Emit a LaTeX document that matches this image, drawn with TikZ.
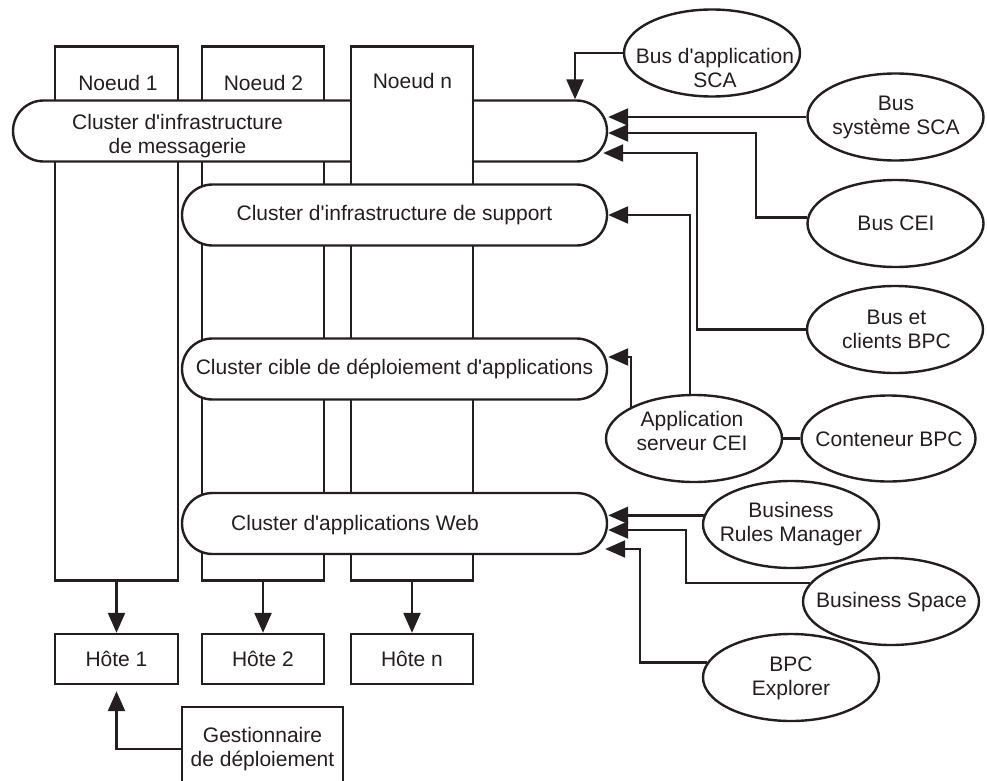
\documentclass[tikz,border=0pt]{standalone}
\usepackage{fontspec}
\setmainfont{Liberation Sans}[Ligatures=TeXOff]
\usetikzlibrary{arrows.meta,shapes.geometric}
\definecolor{ink}{RGB}{35,31,32}
\begin{document}
\begin{tikzpicture}[x=1pt,y=-1pt,
  every node/.style={font=\fontsize{21}{24}\selectfont, text=ink, align=center},
  box/.style={draw=ink, fill=white, line width=2.4pt, inner sep=0pt},
  noeud/.style={box, minimum width=122pt, minimum height=534pt},
  hote/.style={box, minimum width=122pt, minimum height=50pt},
  cluster/.style={box, rounded corners=30.5pt, minimum height=61pt},
  ell/.style={box, ellipse, minimum width=176pt, minimum height=87pt},
  arr/.style={draw=ink, line width=2.4pt, -{Triangle[length=20pt,width=17pt]}},
  lien/.style={draw=ink, line width=2.4pt}]
\useasboundingbox (0,0) rectangle (987,781);
\clip (0,0) rectangle (987,781);
\node[noeud, minimum width=123pt] (n1) at (116.5,313.5) {};
\node[noeud] (n2) at (263,313.5) {};
\node[cluster, minimum width=594pt] (msg) at (310,131) {};
\node[noeud] (nn) at (412,313.5) {};
\node[cluster, minimum width=425pt] (supp) at (394.5,215) {Cluster d'infrastructure de support};
\node[cluster, minimum width=425pt] (depl) at (394.5,369) {Cluster cible de déploiement d'applications};
\node[cluster, minimum width=425pt] (web) at (394.5,523.5) {};
\node (n1txt) at (118,83) {Noeud 1};
\node (n2txt) at (263.5,83) {Noeud 2};
\node (nntxt) at (412.5,81) {Noeud n};
\node (msgtxt) at (177.5,136) {Cluster d'infrastructure\\de messagerie};
\node (webtxt) at (355,525) {Cluster d'applications Web};
\node[hote, minimum width=123pt] (h1) at (116.5,659) {Hôte 1};
\node[hote] (h2) at (263,659) {Hôte 2};
\node[hote] (hn) at (412,659) {Hôte n};
\node[box, minimum width=161pt, minimum height=84pt] (mgr) at (262.5,749) {Gestionnaire\\de déploiement};
\node[ell] (bapp) at (712,53) {};
\node (bapptxt) at (715,68) {Bus d'application\\SCA};
\node[ell] (bsys) at (895.5,117) {};
\node (bsystxt) at (896,117) {Bus\\système SCA};
\node[ell] (bcei) at (895.5,223.5) {};
\node (bceitxt) at (896,223) {Bus CEI};
\node[ell] (bbpc) at (895,329.5) {};
\node (bbpctxt) at (896.5,329) {Bus et\\clients BPC};
\node[ell] (appcei) at (694,438.5) {};
\node (appceitxt) at (692,431) {Application\\serveur CEI};
\node[ell, minimum width=174pt, minimum height=86pt] (cbpc) at (888.5,438.5) {};
\node (cbpctxt) at (889,439) {Conteneur BPC};
\node[ell] (brm) at (791,524.5) {};
\node (brmtxt) at (791,524) {Business\\Rules Manager};
\node[ell] (bspace) at (891,601.5) {};
\node (bspacetxt) at (891.5,602) {Business Space};
\node[ell] (bpce) at (791,677.5) {};
\node (bpcetxt) at (791,678) {BPC\\Explorer};
\draw[arr] (bapp.west) -| ([xshift=265pt]msg.north);
\draw[arr] (bsys.west) -- (bsys.west -| msg.east);
\draw[arr] (bcei.176) -- ++(-51,0) |- ([yshift=-2pt]msg.east);
\draw[arr] (bbpc.west) -- ++(-109,0) |- ([xshift=-5pt,yshift=-22pt]msg.east);
\draw[arr] ([xshift=-4pt]appcei.north) |- (supp.east);
\draw[arr] (appcei.north west) |- ([yshift=12pt]depl.east);
\draw[lien] (appcei.east) -- (cbpc.west);
\draw[arr] (brm.174) -- (brm.174 -| web.east);
\draw[arr] (bspace.167) -- ++(-124,0) |- ([yshift=-6.5pt]web.east);
\draw[arr] (bpce.170) -- ++(-67,0) |- ([xshift=-3pt,yshift=-25.5pt]web.east);
\draw[arr] (n1.south) -- (h1.north);
\draw[arr] (n2.south) -- (h2.north);
\draw[arr] (nn.south) -- (hn.north);
\draw[arr] (mgr.west) -| ([yshift=-6pt]h1.south);
\end{tikzpicture}
\end{document}
